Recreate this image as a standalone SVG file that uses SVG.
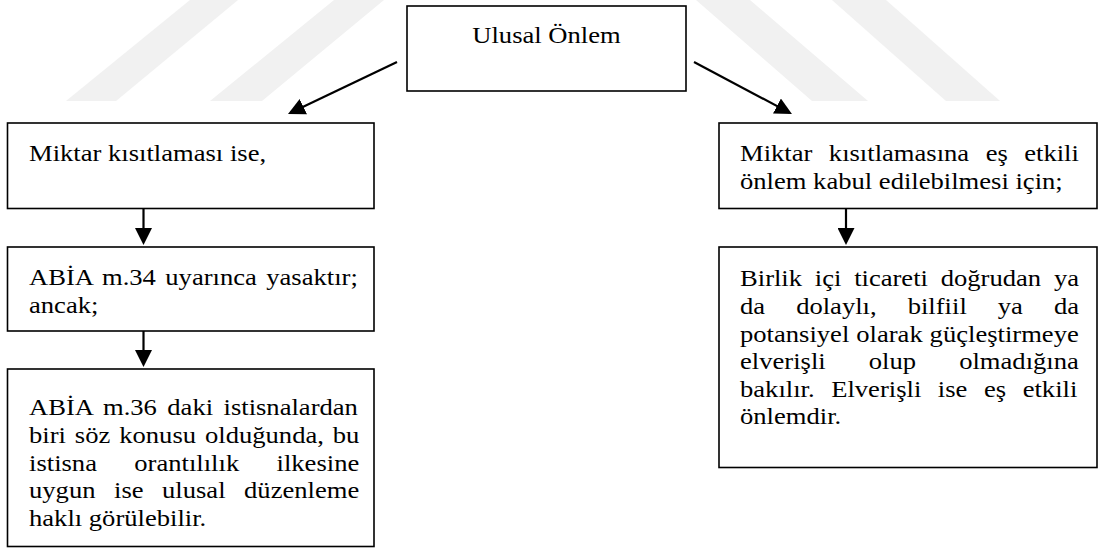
<svg xmlns="http://www.w3.org/2000/svg" width="1099" height="549" viewBox="0 0 1099 549">
  <style>
    .box { fill: #ffffff; stroke: #000000; stroke-width: 1.6; }
    .wire { fill: none; stroke: #000000; stroke-width: 2.2; marker-end: url(#head); }
    .txt { font-family: "Liberation Serif", "Times New Roman", serif; font-size: 24px; fill: #000000; }
    .mark { fill: #f1f1f1; }
  </style>
  <defs>
    <marker id="head" markerUnits="userSpaceOnUse" markerWidth="17" markerHeight="17" refX="14" refY="8.5" orient="auto">
      <path d="M0,0 L17,8.5 L0,17 Z" fill="#000000"/>
    </marker>
  </defs>

  <rect width="1099" height="549" fill="#ffffff"/>

  <!-- faint background stripes -->
  <g id="watermark">
    <polygon class="mark" points="66,101 116,101 238,0 190,0"/>
    <polygon class="mark" points="210,101 262,101 384,0 334,0"/>
    <polygon class="mark" points="696,0 750,0 868,101 812,101"/>
    <polygon class="mark" points="832,0 886,0 1000,101 946,101"/>
  </g>

  <!-- connectors -->
  <g id="connectors">
    <line class="wire" x1="397" y1="62" x2="290.7" y2="112.7"/>
    <line class="wire" x1="694" y1="62" x2="789.3" y2="112.6"/>
    <line class="wire" x1="143.5" y1="208" x2="143.5" y2="242"/>
    <line class="wire" x1="143.5" y1="331" x2="143.5" y2="364"/>
    <line class="wire" x1="846" y1="208" x2="846" y2="242"/>
  </g>

  <g id="node-ulusal">
    <rect class="box" x="407" y="6" width="279" height="85"/>
    <text class="txt" text-anchor="middle" transform="translate(546.5 0) scale(1.1083 1)" x="0" y="43.5">Ulusal Önlem</text>
  </g>

  <g id="node-miktar">
    <rect class="box" x="7.5" y="123" width="366.5" height="85.5"/>
    <text class="txt" transform="translate(29 0) scale(1.1083 1)" x="0" y="161">Miktar kısıtlaması ise,</text>
  </g>

  <g id="node-abia34">
    <rect class="box" x="7.5" y="247" width="366.5" height="84"/>
    <text class="txt" transform="translate(29 0) scale(1.1083 1)">
      <tspan x="0" y="285" word-spacing="2.5">ABİA m.34 uyarınca yasaktır;</tspan>
      <tspan x="0" y="312.6">ancak;</tspan>
    </text>
  </g>

  <g id="node-abia36">
    <rect class="box" x="7.5" y="369" width="366.5" height="177.5"/>
    <text class="txt" transform="translate(29 0) scale(1.1083 1)">
      <tspan x="0" y="415.5" word-spacing="3.4">ABİA m.36 daki istisnalardan</tspan>
      <tspan x="0" y="443.1" word-spacing="2.05">biri söz konusu olduğunda, bu</tspan>
      <tspan x="0" y="470.7" word-spacing="27.7">istisna orantılılık ilkesine</tspan>
      <tspan x="0" y="498.3" word-spacing="10.7">uygun ise ulusal düzenleme</tspan>
      <tspan x="0" y="525.9">haklı görülebilir.</tspan>
    </text>
  </g>

  <g id="node-esetkili">
    <rect class="box" x="719" y="123" width="378" height="85.5"/>
    <text class="txt" transform="translate(740 0) scale(1.1083 1)">
      <tspan x="0" y="161.5" word-spacing="8.85">Miktar kısıtlamasına eş etkili</tspan>
      <tspan x="0" y="189.1">önlem kabul edilebilmesi için;</tspan>
    </text>
  </g>

  <g id="node-birlik">
    <rect class="box" x="719" y="247" width="378" height="220.5"/>
    <text class="txt" transform="translate(740 0) scale(1.1083 1)">
      <tspan x="0" y="286.5" word-spacing="5.5">Birlik içi ticareti doğrudan ya</tspan>
      <tspan x="0" y="314.1" word-spacing="22">da dolaylı, bilfiil ya da</tspan>
      <tspan x="0" y="341.7" word-spacing="0.25">potansiyel olarak güçleştirmeye</tspan>
      <tspan x="0" y="369.3" word-spacing="32.9">elverişli olup olmadığına</tspan>
      <tspan x="0" y="396.9" word-spacing="8.95">bakılır. Elverişli ise eş etkili</tspan>
      <tspan x="0" y="424.5">önlemdir.</tspan>
    </text>
  </g>
</svg>
